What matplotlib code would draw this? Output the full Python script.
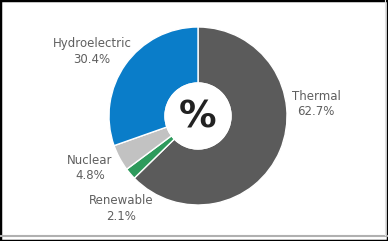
import matplotlib.pyplot as plt
from matplotlib.lines import Line2D

# electricity generation mix
sources = ['Thermal', 'Renewable', 'Nuclear', 'Hydroelectric']
shares = [62.7, 2.1, 4.8, 30.4]
colors = ['#5b5b5b', '#2e9a5c', '#c2c2c2', '#0a7dc9']

W, H = 388, 241
fig = plt.figure(figsize=(W / 100, H / 100), dpi=100)
ax = fig.add_axes([0, 0, 1, 1])

cx, cy, r = 198, H - 116, 89
ax.pie(shares, colors=colors, startangle=90, counterclock=False,
       center=(cx, cy), radius=r, frame=True,
       wedgeprops=dict(width=r * 0.63, edgecolor='white', linewidth=1.0))
ax.set_xlim(0, W)
ax.set_ylim(0, H)
ax.set_aspect('auto')
ax.axis('off')

# white hole + symbol
ax.add_patch(plt.Circle((cx, cy), 33, color='white', zorder=5))
ax.text(cx, cy - 2, '%', ha='center', va='center', fontsize=27,
        fontweight='bold', color='#222222', zorder=6)

# labels (pixel positions of the first line)
label_pos = {
    'Thermal': (316, 96),
    'Renewable': (121, 201),
    'Nuclear': (90, 160),
    'Hydroelectric': (92, 44),
}
for name, val in zip(sources, shares):
    x, y = label_pos[name]
    ax.text(x, H - y, name, ha='center', va='center', fontsize=8.5,
            color='#5f5f5f')
    ax.text(x, H - y - 15.5, f'{val}%', ha='center', va='center',
            fontsize=8.5, color='#5f5f5f')

# frame
fig.add_artist(Line2D([0, 1], [1 - 235.5 / H] * 2,
                      transform=fig.transFigure, color='#b0b0b0', lw=1.5))
fig.add_artist(Line2D([384.5 / W] * 2, [1 - 235 / H, 1],
                      transform=fig.transFigure, color='#e0e0e0', lw=0.8))
fig.add_artist(plt.Rectangle((0, 0), 1, 1, transform=fig.transFigure,
                             fill=False, edgecolor='black', lw=2.5))

fig.savefig('out.png', dpi=100)
